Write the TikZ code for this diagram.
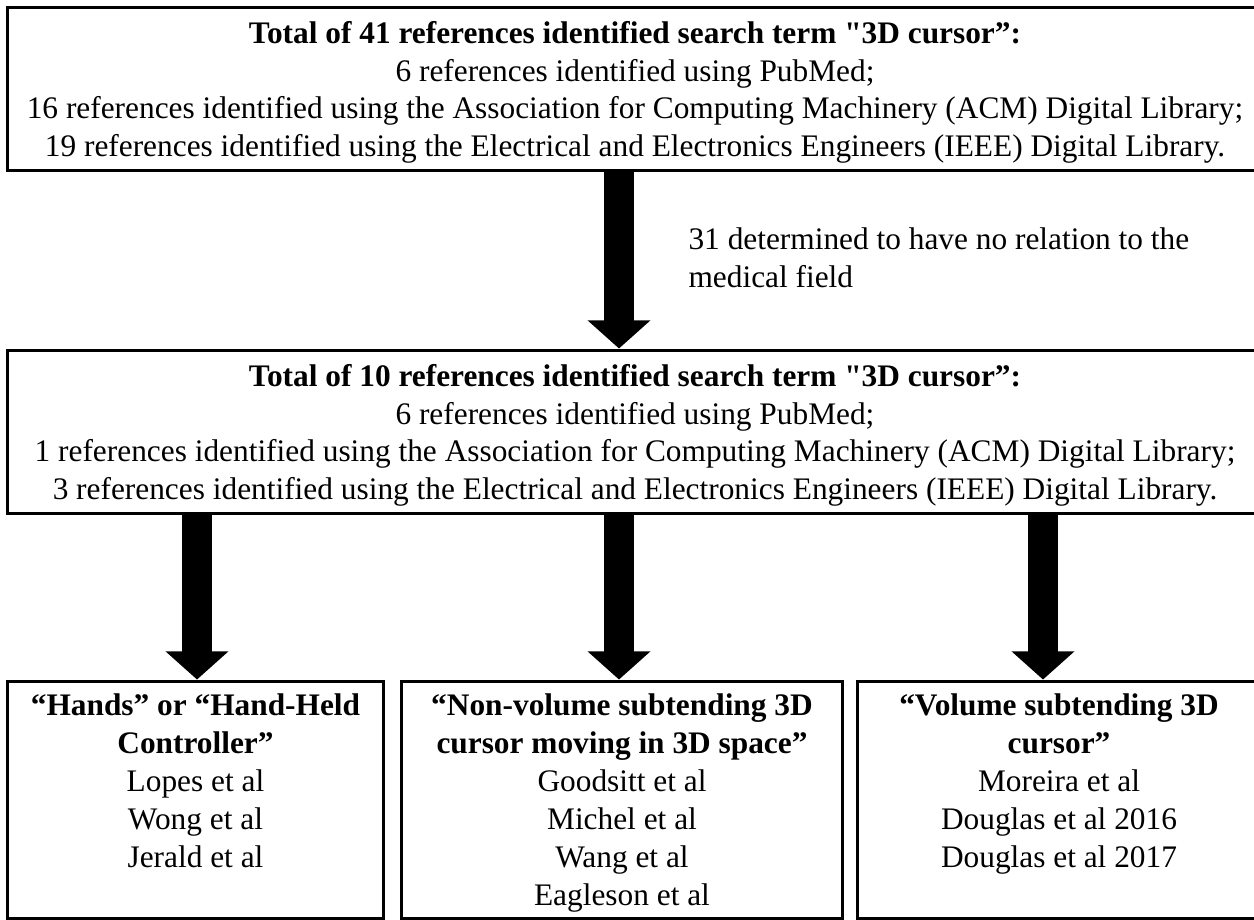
\documentclass[tikz,border=0pt]{standalone}
\usepackage{fontspec}
\newfontfamily\reffont{Liberation Serif}
\usetikzlibrary{arrows.meta}

\begin{document}
\begin{tikzpicture}[
  x=0.3636pt, y=-0.3636pt,
  box/.style={draw, line width=1.1pt, align=center, inner sep=0pt, font=\reffont\fontsize{11.4}{13.8}\selectfont},
  wide/.style={box, minimum width=456pt, minimum height=59.6pt, text height=49.4pt, text depth=0pt},
  catbox/.style={box, minimum height=86.5pt, text depth=0pt},
  note/.style={align=left, inner sep=0pt, font=\reffont\fontsize{11.4}{13.8}\selectfont},
  bigarrow/.style={line width=10.9pt, -{Triangle[length=10.2pt, width=22.2pt]}}
]
\useasboundingbox (0,0) rectangle (1254,920);

% search results
\node[wide] (all) at (635,89) {\textbf{Total of 41 references identified search term "3D cursor”:}\\
6 references identified using PubMed;\\
16 references identified using the Association for Computing Machinery (ACM) Digital Library;\\
19 references identified using the Electrical and Electronics Engineers (IEEE) Digital Library.};

\node[wide] (med) at (635,432) {\textbf{Total of 10 references identified search term "3D cursor”:}\\
6 references identified using PubMed;\\
1 references identified using the Association for Computing Machinery (ACM) Digital Library;\\
3 references identified using the Electrical and Electronics Engineers (IEEE) Digital Library.};

\node[note, anchor=west] (drop) at (688,258) {31 determined to have no relation to the\\medical field};

% categories
\node[catbox, minimum width=136.4pt] (hands) at (195.5,800) {\textbf{“Hands” or “Hand-Held}\\\textbf{Controller”}\\
Lopes et al\\Wong et al\\Jerald et al\\~};
\node[catbox, minimum width=160pt] (novol) at (622,800) {\textbf{“Non-volume subtending 3D}\\\textbf{cursor moving in 3D space”}\\
Goodsitt et al\\Michel et al\\Wang et al\\Eagleson et al};
\node[catbox, minimum width=146.2pt] (vol) at (1059,800) {\textbf{“Volume subtending 3D}\\\textbf{cursor”}\\
Moreira et al\\Douglas et al 2016\\Douglas et al 2017\\~};

\coordinate (a1) at (197,0);
\coordinate (a2) at (619,0);
\coordinate (a3) at (1043,0);

\draw[bigarrow] (all.south -| a2) -- (med.north -| a2);
\draw[bigarrow] (med.south -| a1) -- (hands.north -| a1);
\draw[bigarrow] (med.south -| a2) -- (novol.north -| a2);
\draw[bigarrow] (med.south -| a3) -- (vol.north -| a3);
\end{tikzpicture}
\end{document}
